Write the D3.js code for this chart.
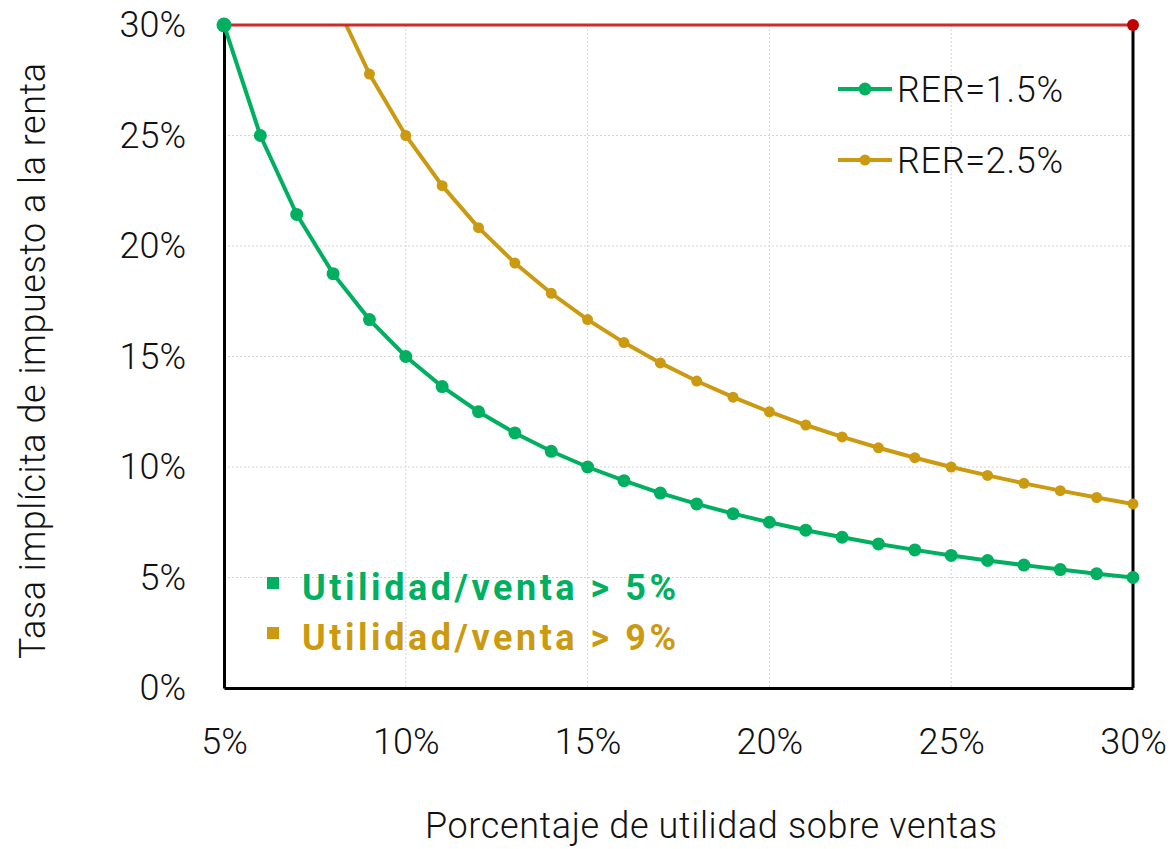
<!DOCTYPE html>
<html>
<head>
<meta charset="utf-8">
<script src="https://cdn.jsdelivr.net/npm/d3@7"></script>
<style>
  body { margin: 0; background: #fff; }
  svg text { font-family: Roboto, "Liberation Sans", sans-serif; }
</style>
</head>
<body>
<svg id="chart" width="1173" height="849"></svg>
<script>
// x values: profit over sales (%)
var utilidad = [5,6,7,8,9,10,11,12,13,14,15,16,17,18,19,20,21,22,23,24,25,26,27,28,29,30];
// implicit tax rate (%)
var rer15 = [30,25,21.43,18.75,16.67,15,13.64,12.5,11.54,10.71,10,9.38,8.82,8.33,7.89,7.5,7.14,6.82,6.52,6.25,6,5.77,5.56,5.36,5.17,5];
var rer25 = [50,41.67,35.71,31.25,27.78,25,22.73,20.83,19.23,17.86,16.67,15.63,14.71,13.89,13.16,12.5,11.9,11.36,10.87,10.42,10,9.62,9.26,8.93,8.62,8.33];
var tope = [{x:5, y:30}, {x:30, y:30}];
var xTicks = [5,10,15,20,25,30];
var yTicks = [0,5,10,15,20,25,30];
var legendNames = ["RER=1.5%", "RER=2.5%"];
var notas = ["Utilidad/venta > 5%", "Utilidad/venta > 9%"];

var green = "#00b060", gold = "#cc9a10", red = "#cc2b2b";

var svg = d3.select("#chart");
var margin = {left: 224, right: 40, top: 25, bottom: 161};
var w = 1173 - margin.left - margin.right;
var h = 849 - margin.top - margin.bottom;

var x = d3.scaleLinear().domain([5, 30]).range([0, w]);
var y = d3.scaleLinear().domain([0, 30]).range([h, 0]);

var g = svg.append("g").attr("transform", "translate(" + margin.left + "," + margin.top + ")");

svg.append("defs").append("clipPath").attr("id", "clip")
  .append("rect").attr("x", 0).attr("y", 0).attr("width", w).attr("height", h);

// grid
g.selectAll(".gx").data(xTicks.slice(1, -1)).enter().append("line")
  .attr("x1", d => x(d)).attr("x2", d => x(d)).attr("y1", 0).attr("y2", h)
  .attr("stroke", "#d4d4d4").attr("stroke-width", 1).attr("stroke-dasharray", "2,2");
g.selectAll(".gy").data(yTicks.slice(1, -1)).enter().append("line")
  .attr("y1", d => y(d)).attr("y2", d => y(d)).attr("x1", 0).attr("x2", w)
  .attr("stroke", "#d4d4d4").attr("stroke-width", 1).attr("stroke-dasharray", "2,2");

// axes
var xAxis = d3.axisBottom(x).tickValues(xTicks).tickFormat(d => d + "%").tickSize(0).tickPadding(40);
var yAxis = d3.axisLeft(y).tickValues(yTicks).tickFormat(d => d + "%").tickSize(0).tickPadding(38);
var gx = g.append("g").attr("transform", "translate(0," + h + ")").call(xAxis);
var gy = g.append("g").call(yAxis);
gx.select(".domain").attr("stroke", "#000").attr("stroke-width", 3);
gy.select(".domain").attr("stroke", "#000").attr("stroke-width", 3);
[gx, gy].forEach(function(a) {
  a.selectAll("text").attr("font-size", 36).attr("font-weight", 300).attr("fill", "#111")
    .style("font-family", "Roboto, sans-serif");
});
gx.selectAll("text").attr("dy", "0.71em");

// right border
g.append("line").attr("x1", w).attr("x2", w).attr("y1", y(30)).attr("y2", h)
  .attr("stroke", "#000").attr("stroke-width", 3);

// titles
svg.append("text").attr("x", 711).attr("y", 838)
  .attr("text-anchor", "middle").attr("font-size", 36).attr("font-weight", 300).attr("fill", "#111")
  .attr("textLength", 572).attr("lengthAdjust", "spacing")
  .text("Porcentaje de utilidad sobre ventas");
svg.append("text").attr("transform", "translate(45,361) rotate(-90)")
  .attr("text-anchor", "middle").attr("font-size", 36).attr("font-weight", 300).attr("fill", "#111")
  .attr("textLength", 596).attr("lengthAdjust", "spacing")
  .text("Tasa implícita de impuesto a la renta");

// series
var line = d3.line().x(d => x(d.x)).y(d => y(d.y));
var plot = g.append("g").attr("clip-path", "url(#clip)");

var s1 = utilidad.map((u, i) => ({x: u, y: rer15[i]}));
var s2 = utilidad.map((u, i) => ({x: u, y: rer25[i]}));

plot.append("path").datum(s2).attr("d", line).attr("fill", "none").attr("stroke", gold).attr("stroke-width", 4);
plot.append("path").datum(s1).attr("d", line).attr("fill", "none").attr("stroke", green).attr("stroke-width", 4);

g.append("path").datum(tope).attr("d", line).attr("fill", "none").attr("stroke", red).attr("stroke-width", 3);

g.selectAll(".p2").data(s2.filter(d => d.y <= 30)).enter().append("circle")
  .attr("cx", d => x(d.x)).attr("cy", d => y(d.y)).attr("r", 5.5).attr("fill", gold);
g.selectAll(".p1").data(s1).enter().append("circle")
  .attr("cx", d => x(d.x)).attr("cy", d => y(d.y)).attr("r", d => d.y >= 30 ? 7.5 : 6.5).attr("fill", green);
g.append("circle").attr("cx", x(tope[1].x)).attr("cy", y(tope[1].y)).attr("r", 6).attr("fill", "#c00000");

// legend
var leg = svg.append("g").attr("transform", "translate(838,89)");
legendNames.forEach(function(name, i) {
  var row = leg.append("g").attr("transform", "translate(0," + (i * 71) + ")");
  var c = i == 0 ? green : gold;
  row.append("line").attr("x1", 0).attr("x2", 54).attr("stroke", c).attr("stroke-width", 4);
  row.append("circle").attr("cx", 27).attr("r", i == 0 ? 6.5 : 5.5).attr("fill", c);
  row.append("text").attr("x", 59).attr("dy", "0.35em").attr("font-size", 36).attr("font-weight", 300)
    .attr("fill", "#111").attr("textLength", 166).attr("lengthAdjust", "spacing").text(name);
});

// notes
notas.forEach(function(t, i) {
  var c = i == 0 ? green : gold;
  var base = 600 + i * 50;
  svg.append("rect").attr("x", 267).attr("y", base - 23).attr("width", 12).attr("height", 12).attr("fill", c);
  svg.append("text").attr("x", 302).attr("y", base).attr("font-size", 36)
    .attr("font-weight", 700).attr("fill", c)
    .attr("textLength", 374).attr("lengthAdjust", "spacing").text(t);
});
</script>
</body>
</html>
